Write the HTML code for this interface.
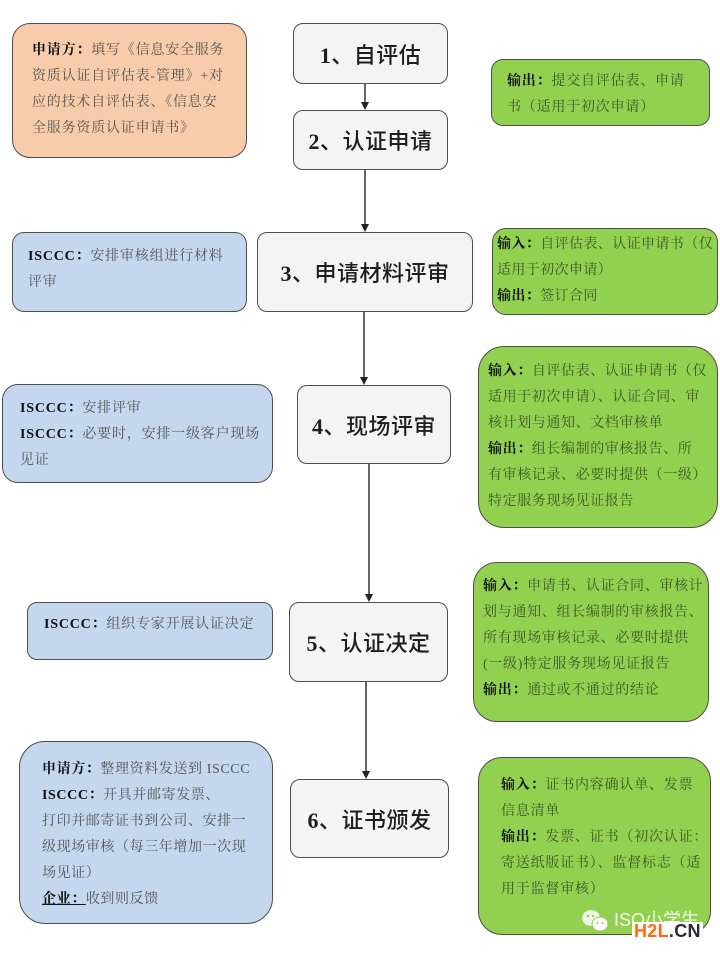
<!DOCTYPE html>
<html>
<head>
<meta charset="utf-8">
<style>
  html,body{margin:0;padding:0;background:#fff;}
  body{width:720px;height:955px;position:relative;overflow:hidden;
       font-family:"Liberation Serif","Noto Serif CJK SC",serif;}
  .box{position:absolute;box-sizing:border-box;border:1.5px solid #4d4d4d;}
  .step{background:#f4f4f4;border-radius:10px;display:flex;align-items:center;justify-content:center;
        font-family:"Liberation Serif","Noto Sans CJK SC",sans-serif;font-size:22px;color:#1e1e1e;font-weight:500;letter-spacing:0.5px;white-space:nowrap;}
  .step b{font-weight:bold;font-family:"Liberation Serif",serif;}
  .orange{background:#f8cbaa;}
  .blue{background:#c5d7ee;}
  .green{background:#92d050;}
  .t{position:absolute;white-space:nowrap;font-size:14px;line-height:26px;letter-spacing:0.8px;}
  .orange .t,.blue .t{color:#555;}
  .green .t{color:#3c5627;}
  .t b{color:#111;font-weight:bold;}
  svg.arr{position:absolute;left:0;top:0;}
</style>
</head>
<body>

<!-- Orange box -->
<div class="box orange" style="left:12px;top:23px;width:235px;height:135px;border-radius:18px;">
  <div class="t" style="left:19px;top:14px;"><b>申请方：</b>填写《信息安全服务<br>资质认证自评估表-管理》+对<br>应的技术自评估表、《信息安<br>全服务资质认证申请书》</div>
</div>

<!-- Step 1 -->
<div class="box step" style="left:293px;top:23px;width:155px;height:61px;"><span><b>1</b>、自评估</span></div>
<!-- Step 2 -->
<div class="box step" style="left:293px;top:110px;width:155px;height:60px;"><span><b>2</b>、认证申请</span></div>

<!-- Green 1 -->
<div class="box green" style="left:491px;top:59px;width:219px;height:67px;border-radius:12px;">
  <div class="t" style="left:15px;top:9px;"><b>输出：</b>提交自评估表、申请<br>书（适用于初次申请）</div>
</div>

<!-- Blue 3 -->
<div class="box blue" style="left:12px;top:232px;width:235px;height:80px;border-radius:12px;">
  <div class="t" style="left:15px;top:11px;"><b>ISCCC：</b>安排审核组进行材料<br>评审</div>
</div>
<!-- Step 3 -->
<div class="box step" style="left:257px;top:232px;width:216px;height:80px;"><span><b>3</b>、申请材料评审</span></div>
<!-- Green 3 -->
<div class="box green" style="left:492px;top:228px;width:226px;height:87px;border-radius:14px;">
  <div class="t" style="left:4px;top:3px;letter-spacing:0.4px;"><b>输入：</b>自评估表、认证申请书（仅<br>适用于初次申请）<br><b>输出：</b>签订合同</div>
</div>

<!-- Blue 4 -->
<div class="box blue" style="left:2px;top:384px;width:271px;height:99px;border-radius:16px;">
  <div class="t" style="left:17px;top:11px;"><b>ISCCC：</b>安排评审<br><b>ISCCC：</b>必要时，安排一级客户现场<br>见证</div>
</div>
<!-- Step 4 -->
<div class="box step" style="left:297px;top:385px;width:154px;height:79px;"><span><b>4</b>、现场评审</span></div>
<!-- Green 4 -->
<div class="box green" style="left:478px;top:346px;width:240px;height:182px;border-radius:26px;">
  <div class="t" style="left:9px;top:12px;letter-spacing:0.6px;"><b>输入：</b>自评估表、认证申请书（仅<br>适用于初次申请）、认证合同、审<br>核计划与通知、文档审核单<br><b>输出：</b>组长编制的审核报告、所<br>有审核记录、必要时提供（一级）<br>特定服务现场见证报告</div>
</div>

<!-- Blue 5 -->
<div class="box blue" style="left:27px;top:602px;width:246px;height:58px;border-radius:10px;">
  <div class="t" style="left:16px;top:9px;"><b>ISCCC：</b>组织专家开展认证决定</div>
</div>
<!-- Step 5 -->
<div class="box step" style="left:289px;top:602px;width:159px;height:80px;"><span><b>5</b>、认证决定</span></div>
<!-- Green 5 -->
<div class="box green" style="left:473px;top:562px;width:236px;height:160px;border-radius:24px;">
  <div class="t" style="left:9px;top:11px;letter-spacing:0.7px;"><b>输入：</b>申请书、认证合同、审核计<br>划与通知、组长编制的审核报告、<br>所有现场审核记录、必要时提供<br>(一级)特定服务现场见证报告<br><b>输出：</b>通过或不通过的结论</div>
</div>

<!-- Blue 6 -->
<div class="box blue" style="left:19px;top:741px;width:254px;height:183px;border-radius:26px;">
  <div class="t" style="left:22px;top:15px;letter-spacing:0.6px;"><b>申请方：</b>整理资料发送到 ISCCC<br><b>ISCCC：</b>开具并邮寄发票、<br>打印并邮寄证书到公司、安排一<br>级现场审核（每三年增加一次现<br>场见证）<br><b style="text-decoration:underline;">企业：</b>收到则反馈</div>
</div>
<!-- Step 6 -->
<div class="box step" style="left:290px;top:779px;width:159px;height:79px;"><span><b>6</b>、证书颁发</span></div>
<!-- Green 6 -->
<div class="box green" style="left:478px;top:757px;width:233px;height:178px;border-radius:24px;">
  <div class="t" style="left:22px;top:15px;letter-spacing:0.8px;"><b>输入：</b>证书内容确认单、发票<br>信息清单<br><b>输出：</b>发票、证书（初次认证：<br>寄送纸版证书）、监督标志（适<br>用于监督审核）</div>
</div>

<!-- Watermark -->
<svg style="position:absolute;left:580px;top:908px;" width="32" height="26" viewBox="0 0 32 26">
  <ellipse cx="11" cy="10" rx="9" ry="8" fill="#f4f8ee" opacity="0.95"/>
  <ellipse cx="20" cy="16" rx="8" ry="7" fill="#ffffff" stroke="#92d050" stroke-width="1"/>
  <circle cx="8" cy="8" r="1.2" fill="#92d050"/>
  <circle cx="13" cy="8" r="1.2" fill="#92d050"/>
  <circle cx="17.5" cy="15" r="1" fill="#92d050"/>
  <circle cx="22.5" cy="15" r="1" fill="#92d050"/>
</svg>
<div style="position:absolute;left:614px;top:906px;font-family:'Liberation Sans','Noto Sans CJK SC',sans-serif;font-size:18px;color:#f2f7ea;white-space:nowrap;">ISO小学生</div>
<div style="position:absolute;left:632px;top:922px;background:#fff;padding:0 2px;font-family:'Liberation Sans',sans-serif;font-weight:bold;font-size:18px;line-height:18px;white-space:nowrap;letter-spacing:0.3px;"><span style="color:#ff6a10;">H2L</span><span style="color:#2a2a35;">.CN</span></div>

<!-- Arrows -->
<svg class="arr" width="720" height="955">
  <g stroke="#333" stroke-width="1.5" fill="none">
    <line x1="365" y1="84" x2="365" y2="103"/>
    <line x1="365" y1="170" x2="365" y2="225"/>
    <line x1="364" y1="312" x2="364" y2="378"/>
    <line x1="369" y1="464" x2="369" y2="595"/>
    <line x1="366" y1="682" x2="366" y2="772"/>
  </g>
  <g fill="#222">
    <polygon points="361,102 369,102 365,110"/>
    <polygon points="361,224 369,224 365,232"/>
    <polygon points="360,377 368,377 364,385"/>
    <polygon points="365,594 373,594 369,602"/>
    <polygon points="362,771 370,771 366,779"/>
  </g>
</svg>

</body>
</html>
